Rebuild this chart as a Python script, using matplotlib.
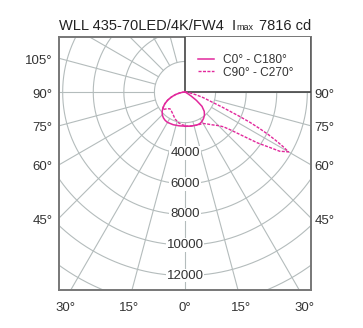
import numpy as np
import matplotlib
matplotlib.use("Agg")
import matplotlib.pyplot as plt
from matplotlib.patches import Rectangle
from matplotlib.lines import Line2D

plt.rcParams['font.family'] = ['Liberation Sans', 'DejaVu Sans']

# ---- data ----
title_main = "WLL 435-70LED/4K/FW4"
imax = 7816
ring_values = [2000, 4000, 6000, 8000, 10000, 12000, 14000, 16000]
ring_labels = [4000, 6000, 8000, 10000, 12000]
left_angle_labels = [105, 90, 75, 60, 45]
right_angle_labels = [90, 75, 60, 45]
bottom_angle_labels = [-30, -15, 0, 15, 30]

# C0 (right side, solid)
g_c0 = [0, 10, 20, 25, 30, 35, 40, 45, 50, 54, 57, 60, 65, 70, 90]
i_c0 = [2240, 2260, 2290, 2280, 2220, 2110, 1980, 1780, 1450, 920, 480, 200, 60, 0, 0]
# C180 (left side, solid)
g_c180 = [0, 10, 20, 30, 35, 40, 45, 50, 55, 60, 65, 70, 75, 80, 85, 90]
i_c180 = [2230, 2240, 2270, 2290, 2260, 2200, 2100, 1950, 1750, 1520, 1250, 950, 650, 380, 160, 0]
# C90 (right side, dashed)
g_c90 = [0, 10, 20, 30, 35, 40, 45, 48, 50, 53, 55, 57, 58, 60, 61, 62, 63, 64, 65, 66, 68, 70, 73, 76, 80, 85, 90]
i_c90 = [2230, 2250, 2300, 2370, 2550, 2800, 3100, 3400, 3800, 4800, 5800, 6700, 7300, 7816, 7300, 6700, 6100, 5400, 4700, 3900, 2600, 1800, 1250, 760, 350, 100, 0]
# C270 (left side, dashed)
g_c270 = [0, 5, 12, 20, 30, 36, 42, 47, 52, 55, 60, 65, 70, 75, 80, 85, 90]
i_c270 = [2180, 2150, 2050, 1880, 1620, 1520, 1470, 1600, 1850, 1740, 1520, 1250, 950, 650, 380, 160, 0]

legend_labels = ["C0\u00b0 - C180\u00b0", "C90\u00b0 - C270\u00b0"]

# ---- figure ----
W, H = 363, 328
fig = plt.figure(figsize=(W / 100, H / 100), dpi=100)
ax = fig.add_axes([59 / W, 1 - 290 / H, 252 / W, 253 / H])
XL, XR, YB, YT = -8240, 8240, -12940, 3600
ax.set_xlim(XL, XR)
ax.set_ylim(YB, YT)
ax.set_xticks([]); ax.set_yticks([])
for s in ax.spines.values():
    s.set_color('#777777'); s.set_linewidth(1.4)

grid_c = '#b4bcbc'
t = np.linspace(0, 2 * np.pi, 721)
for r in ring_values:
    ax.plot(r * np.sin(t), r * np.cos(t), color=grid_c, lw=0.8, zorder=1)
for g in range(-180, 180, 15):
    gr = np.radians(g)
    ax.plot([2000 * np.sin(gr), 30000 * np.sin(gr)],
            [-2000 * np.cos(gr), -30000 * np.cos(gr)], color=grid_c, lw=0.8, zorder=1)

# legend box (upper-right quadrant)
ax.add_patch(Rectangle((0, 0), XR, YT + 200, facecolor='white', edgecolor='#444444',
                       lw=1.2, zorder=3))

col = '#e2289c'
def curve(g_left, i_left, g_right, i_right):
    gl = np.radians(np.array(g_left)[::-1]); il = np.array(i_left)[::-1]
    gr = np.radians(np.array(g_right)); ir = np.array(i_right)
    x = np.concatenate([-il * np.sin(gl), ir * np.sin(gr)])
    y = np.concatenate([-il * np.cos(gl), -ir * np.cos(gr)])
    return x, y

x1, y1 = curve(g_c180, i_c180, g_c0, i_c0)
x2, y2 = curve(g_c270, i_c270, g_c90, i_c90)
ax.plot(x1, y1, color=col, lw=1.1, zorder=4)
ax.plot(x2, y2, color=col, lw=1.0, ls=(0, (2.2, 1.0)), zorder=4)

tc = '#333333'
fs = 9.5
for r in ring_labels:
    ax.text(0, -r, f"{r}", ha='center', va='center', fontsize=fs, color=tc, zorder=5,
            bbox=dict(facecolor='white', edgecolor='none', pad=0.6))

for a in left_angle_labels:
    y = XL / np.tan(np.radians(a)) if a != 90 else 0
    ax.text(XL - 420, y - 170, f"{a}\u00b0", ha='right', va='center', fontsize=fs,
            color=tc, clip_on=False)
for a in right_angle_labels:
    y = XL / np.tan(np.radians(a)) if a != 90 else 0
    ax.text(XR + 230, y - 170, f"{a}\u00b0", ha='left', va='center', fontsize=fs,
            color=tc, clip_on=False)
for a in bottom_angle_labels:
    x = -YB * np.tan(np.radians(a)) * 1.05
    ax.text(x, YB - 1150, f"{abs(a)}\u00b0", ha='center', va='center', fontsize=fs,
            color=tc, clip_on=False)

handles = [Line2D([], [], color=col, lw=1.1),
           Line2D([], [], color=col, lw=1.0, ls=(0, (2.2, 1.0)))]
leg = ax.legend(handles, legend_labels, loc='upper left', bbox_to_anchor=(139 / 252, 1 - 17 / 253),
                frameon=False, fontsize=8.6, handlelength=1.3, handletextpad=0.8,
                labelspacing=0.05, borderaxespad=0, borderpad=0)
for txt in leg.get_texts():
    txt.set_color(tc)
leg.set_zorder(6)

# title
tcol = '#222222'
fig.text(59 / W, 1 - 26 / H, title_main, ha='left', va='center', fontsize=10.5, color=tcol)
fig.text(232 / W, 1 - 26 / H, "I", ha='left', va='center', fontsize=10.5, color=tcol)
fig.text(236.5 / W, 1 - 27.5 / H, "max", ha='left', va='center', fontsize=6.5, color=tcol)
fig.text(259 / W, 1 - 26 / H, f"{imax} cd", ha='left', va='center', fontsize=10.5, color=tcol)

fig.savefig('out.png', dpi=100)
